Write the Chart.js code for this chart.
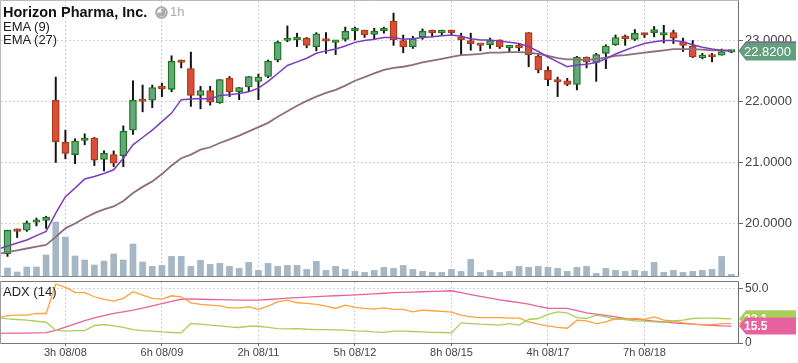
<!DOCTYPE html>
<html><head><meta charset="utf-8">
<script src="https://cdn.jsdelivr.net/npm/chart.js@4.4.0/dist/chart.umd.min.js"></script>
<style>
html,body{margin:0;padding:0;background:#fff;}
#wrap{position:relative;width:798px;height:363px;overflow:hidden;font-family:"Liberation Sans",Arial,sans-serif;}
canvas{position:absolute;left:0;}
.lbl{position:absolute;white-space:nowrap;color:#222;font-size:13px;line-height:13px;}
</style></head><body>
<div id="wrap">
<canvas id="priceChart" width="798" height="278" style="top:0"></canvas>
<canvas id="adxChart" width="798" height="83" style="top:280px"></canvas>
<div class="lbl" style="left:3px;top:5px;font-weight:bold;font-size:14.5px;line-height:14.5px;color:#111">Horizon Pharma, Inc.</div>
<svg style="position:absolute;left:155px;top:6px" width="13" height="13" viewBox="0 0 13 13">
  <circle cx="6.5" cy="6.5" r="5.3" fill="none" stroke="#aaa" stroke-width="2"/>
  <path d="M6.5 6.5 L6.5 2.5 A4 4 0 1 1 2.5 6.5 Z" fill="#aaa"/>
</svg>
<div class="lbl" style="left:170px;top:5px;color:#aaa">1h</div>
<div class="lbl" style="left:3px;top:19.5px">EMA (9)</div>
<div class="lbl" style="left:3px;top:33px">EMA (27)</div>
<div class="lbl" style="left:3px;top:285px">ADX (14)</div>
</div>
<script>
// ---------- data ----------
const tickIdx    = [6, 16, 26, 36, 46, 56, 66];
const tickLabels = ['3h 08/08','6h 08/09','2h 08/11','5h 08/12','8h 08/15','4h 08/17','7h 08/18'];
const priceTicks = [20, 21, 22, 23];
const adxTicks   = [0, 50];

const opens  = [19.50,19.89,19.89,20.02,20.05,22.02,21.33,21.13,21.36,21.40,21.05,21.13,21.11,21.53,22.03,22.02,22.23,22.20,22.68,22.54,
                22.10,22.18,21.98,22.38,22.16,22.24,22.33,22.41,22.68,23.00,23.01,23.04,22.90,23.02,22.97,23.02,23.16,23.17,23.10,23.16,
                23.32,23.00,22.90,23.06,23.15,23.13,23.17,23.04,23.00,22.94,22.93,23.01,22.88,22.91,23.13,22.74,22.51,22.34,22.34,22.28,
                22.73,22.64,22.79,22.93,23.05,23.02,23.11,23.13,23.09,23.13,22.98,22.91,22.72,22.76,22.76,22.81];
const highs  = [19.89,19.91,20.04,20.09,20.12,22.40,21.53,21.39,21.47,21.41,21.19,21.19,21.60,22.34,22.27,22.27,22.30,22.75,22.68,22.81,
                22.25,22.25,22.36,22.41,22.23,22.41,22.45,22.68,22.99,23.24,23.12,23.05,23.13,23.13,23.00,23.22,23.22,23.17,23.20,23.22,
                23.45,23.09,23.07,23.19,23.17,23.17,23.17,23.12,23.12,22.94,23.04,23.01,22.92,22.95,23.13,22.77,22.57,22.40,22.38,22.74,
                22.73,22.79,22.93,23.09,23.09,23.18,23.12,23.23,23.25,23.17,23.04,23.00,22.79,22.79,22.86,22.83];
const lows   = [19.46,19.77,19.87,19.96,19.92,21.00,21.06,20.98,21.29,20.95,20.86,20.93,20.93,21.46,21.83,21.90,22.08,22.16,22.55,21.92,
                21.88,21.94,21.97,22.08,22.03,22.16,22.03,22.39,22.65,22.98,22.90,22.88,22.83,22.79,22.77,22.99,23.01,23.05,23.02,23.12,
                22.92,22.80,22.87,23.02,23.06,23.09,23.10,22.76,22.84,22.83,22.87,22.87,22.80,22.83,22.57,22.47,22.26,22.08,22.26,22.19,
                22.55,22.33,22.54,22.92,22.92,23.00,23.05,23.06,22.96,22.95,22.82,22.72,22.70,22.65,22.76,22.80];
const closes = [19.89,19.87,20.01,20.04,20.10,21.34,21.15,21.35,21.40,21.04,21.15,20.99,21.51,22.02,22.00,22.23,22.21,22.66,22.64,22.10,
                22.18,21.99,22.36,22.16,22.23,22.41,22.40,22.66,22.97,23.02,23.04,22.92,23.11,22.99,23.00,23.15,23.18,23.09,23.15,23.20,
                23.01,22.90,23.03,23.15,23.13,23.17,23.13,23.01,22.95,22.92,23.00,22.90,22.91,22.88,22.77,22.52,22.36,22.32,22.28,22.73,
                22.65,22.77,22.91,23.05,23.03,23.12,23.09,23.18,23.11,23.04,22.92,22.73,22.74,22.73,22.82,22.82];
const volume = [80000,40000,90000,90000,210000,540000,390000,200000,160000,110000,150000,220000,160000,320000,140000,
                96000,106000,196000,196000,96000,156000,116000,126000,96000,76000,136000,56000,126000,96000,106000,
                106000,66000,146000,56000,96000,66000,46000,36000,56000,86000,76000,106000,66000,46000,36000,
                36000,66000,46000,166000,36000,56000,36000,46000,96000,86000,96000,86000,76000,46000,86000,
                96000,26000,76000,56000,46000,56000,46000,136000,36000,56000,36000,46000,56000,66000,196000,16000];
const ema9   = [19.63,19.68,19.73,19.80,19.87,20.17,20.44,20.58,20.73,20.77,20.82,20.88,21.07,21.29,21.41,21.53,21.67,21.81,22.03,22.04,
                22.05,22.04,22.10,22.11,22.13,22.16,22.22,22.33,22.46,22.59,22.65,22.71,22.79,22.83,22.86,22.91,22.97,23.00,23.02,23.05,
                23.05,23.02,23.03,23.05,23.06,23.08,23.09,23.07,23.03,23.01,23.01,22.99,22.97,22.95,22.90,22.82,22.73,22.65,22.57,22.60,
                22.61,22.64,22.70,22.78,22.84,22.90,22.95,22.98,23.00,23.00,22.98,22.93,22.89,22.86,22.84,22.83];
const ema27  = [19.53,19.56,19.59,19.62,19.65,19.78,19.92,20.00,20.09,20.17,20.23,20.28,20.37,20.50,20.60,20.69,20.81,20.95,21.07,21.13,
                21.21,21.25,21.32,21.38,21.44,21.51,21.58,21.65,21.75,21.84,21.93,22.01,22.08,22.14,22.19,22.26,22.34,22.40,22.46,22.52,
                22.55,22.57,22.60,22.64,22.67,22.70,22.73,22.76,22.77,22.78,22.80,22.80,22.81,22.81,22.80,22.78,22.75,22.71,22.69,22.69,
                22.68,22.70,22.72,22.75,22.76,22.78,22.80,22.82,22.84,22.86,22.86,22.86,22.85,22.84,22.84,22.84];
const adx    = [9.0,9.0,9.1,9.2,9.4,11.5,14.5,17.5,20.5,23.0,25.0,27.0,28.5,30.0,32.0,34.0,36.0,38.0,40.0,40.3,
                40.0,39.8,39.6,39.5,39.3,39.2,39.3,39.8,40.4,41.0,41.5,42.0,42.4,42.8,43.2,43.6,44.0,44.5,45.0,45.5,
                46.0,46.3,46.6,46.9,47.2,47.5,47.8,46.0,44.3,42.6,41.0,39.5,38.2,37.0,35.5,33.5,31.8,31.6,31.6,29.6,
                27.6,26.4,25.2,23.8,22.4,21.6,20.9,20.1,19.3,18.5,17.8,17.2,16.6,16.1,15.7,15.5];
const diPlus = [25.0,25.5,25.5,27.0,27.0,54.0,50.9,46.3,46.0,42.3,39.9,38.3,40.8,46.9,43.8,40.8,40.2,43.2,42.3,36.8,
                35.3,34.7,34.0,32.2,32.2,33.1,30.7,33.7,37.7,39.2,36.8,36.2,35.3,33.7,31.6,34.7,32.5,31.6,31.0,32.2,
                30.7,30.7,28.5,30.1,29.5,28.9,28.3,25.5,23.9,23.3,23.3,23.3,22.7,22.7,19.3,17.2,15.6,14.2,13.5,20.9,
                20.3,17.8,19.3,22.4,21.8,22.4,21.5,23.9,20.9,20.3,18.4,17.2,16.9,16.9,17.8,17.8];
const diMinus= [22.1,21.5,20.9,19.9,19.0,11.7,10.8,11.4,11.4,16.0,16.9,15.6,14.2,12.3,11.4,10.8,10.1,9.6,9.3,17.8,
                17.2,16.3,15.6,14.7,14.2,15.3,15.3,14.2,13.2,12.9,13.2,12.6,12.3,12.3,12.0,11.7,11.1,10.8,10.1,9.8,
                10.8,10.8,10.5,10.1,9.8,9.6,9.3,18.4,17.8,17.2,16.9,16.3,17.8,16.3,21.5,22.4,26.1,28.5,27.6,23.3,
                22.4,25.5,23.9,21.8,21.5,20.3,20.0,19.3,19.0,20.3,20.9,22.4,22.7,22.7,22.4,22.1];
// indicator values of the bar just before the visible window (lines run in from the left edge)
const prevEma9 = 19.58, prevEma27 = 19.50, prevAdx = 8.6, prevDiPlus = 23.0, prevDiMinus = 23.5;

// ---------- styling ----------
const FONT = '"Liberation Sans", Arial, sans-serif';
Chart.defaults.font.family = FONT;
Chart.defaults.animation = false;
const N = closes.length;
const idx = [...Array(N).keys()];
const up = idx.map(i => closes[i] >= opens[i]);
const G_FILL = '#69a680', G_LINE = '#167a16', R_FILL = '#d94f3b', R_LINE = '#ac3a12';
const C_EMA9 = '#7b3cc0', C_EMA27 = '#8d6e80';
const C_ADX = '#e8629f', C_DIP = '#ffa23a', C_DIM = '#a9cf5a';
const X_MIN = -0.6735, X_MAX = 75.69;
const GRID = '#d2d2d2';

function noPad(s) { s.paddingTop = 0; s.paddingBottom = 0; s.paddingLeft = 0; s.paddingRight = 0; }

function tag(ctx, x0, y, h, w, color, text, font) {
  ctx.save();
  ctx.beginPath();
  ctx.moveTo(x0, y);
  ctx.lineTo(x0 + 7, y - h / 2);
  ctx.lineTo(x0 + w, y - h / 2);
  ctx.lineTo(x0 + w, y + h / 2);
  ctx.lineTo(x0 + 7, y + h / 2);
  ctx.closePath();
  ctx.fillStyle = color;
  ctx.fill();
  ctx.fillStyle = '#fff';
  ctx.font = font;
  ctx.textBaseline = 'middle';
  ctx.textAlign = 'left';
  ctx.fillText(text, x0 + 5, y + 0.5);
  ctx.restore();
}

function frame(ctx, a, cTop, cRight, cBottom, cLeft) {
  ctx.save();
  ctx.lineWidth = 1;
  const L = Math.round(a.left) - 0.5, R = Math.round(a.right) + 0.5, T = Math.round(a.top) - 0.5, B = Math.round(a.bottom) + 0.5;
  const seg = (x1, y1, x2, y2, c) => { ctx.strokeStyle = c; ctx.beginPath(); ctx.moveTo(x1, y1); ctx.lineTo(x2, y2); ctx.stroke(); };
  seg(L, T, R, T, cTop); seg(L, B, R, B, cBottom); seg(L, T, L, B, cLeft); seg(R, T, R, B, cRight);
  ctx.restore();
}

const mainPlugin = {
  id: 'mainDeco',
  afterDraw(chart) {
    const ctx = chart.ctx, a = chart.chartArea, ys = chart.scales.y;
    frame(ctx, a, '#bbbbbb', '#707070', '#888888', '#bbbbbb');
    const x0 = a.right + 1;
    tag(ctx, x0, ys.getPixelForValue(ema27[N - 1]), 18, 57, C_EMA27, '', '13px ' + FONT);
    tag(ctx, x0, ys.getPixelForValue(ema9[N - 1]), 18, 57, C_EMA9, '', '13px ' + FONT);
    tag(ctx, x0, ys.getPixelForValue(closes[N - 1]), 18, 57, '#62a07d', closes[N - 1].toFixed(4), '13px ' + FONT);
  }
};

const adxPlugin = {
  id: 'adxDeco',
  afterDraw(chart) {
    const ctx = chart.ctx, a = chart.chartArea, ys = chart.scales.y;
    frame(ctx, a, '#777777', '#707070', '#777777', '#999999');
    const x0 = a.right + 1;
    tag(ctx, x0, ys.getPixelForValue(diPlus[N - 1]), 17, 57, C_DIP, diPlus[N - 1].toFixed(1), 'bold 12px ' + FONT);
    tag(ctx, x0, ys.getPixelForValue(diMinus[N - 1]), 17, 57, C_DIM, diMinus[N - 1].toFixed(1), 'bold 12px ' + FONT);
    tag(ctx, x0, ys.getPixelForValue(adx[N - 1]), 17, 57, C_ADX, adx[N - 1].toFixed(1), 'bold 12px ' + FONT);
  }
};

const xy = arr => idx.map(i => ({ x: i, y: arr[i] }));
const lineXY = (prev, arr) => [{ x: -1, y: prev }].concat(xy(arr));

new Chart(document.getElementById('priceChart'), {
  type: 'bar',
  data: {
    datasets: [
      { type: 'line', data: lineXY(prevEma9, ema9), borderColor: C_EMA9, borderWidth: 1.5, pointRadius: 0, tension: 0, order: 0, yAxisID: 'y' },
      { type: 'line', data: lineXY(prevEma27, ema27), borderColor: C_EMA27, borderWidth: 1.8, pointRadius: 0, tension: 0, order: 1, yAxisID: 'y' },
      { type: 'bar', data: idx.map(i => ({ x: i, y: [opens[i], closes[i]] })), yAxisID: 'y',
        backgroundColor: up.map(u => u ? G_FILL : R_FILL), borderColor: up.map(u => u ? G_LINE : R_LINE),
        borderWidth: 1.3, borderSkipped: false, barThickness: 7, grouped: false, minBarLength: 2.5, order: 2 },
      { type: 'bar', data: idx.map(i => ({ x: i, y: [lows[i], highs[i]] })), yAxisID: 'y',
        backgroundColor: '#111', barThickness: 1.3, grouped: false, order: 3 },
      { type: 'bar', data: xy(volume), yAxisID: 'vol', backgroundColor: '#a5b6c5', barThickness: 6, grouped: false, order: 4 }
    ]
  },
  options: {
    responsive: false, events: [],
    layout: { padding: { left: 1, top: 1, right: 0, bottom: 2 } },
    plugins: { legend: { display: false }, tooltip: { enabled: false } },
    scales: {
      x: { type: 'linear', min: X_MIN, max: X_MAX, offset: false,
           afterBuildTicks: s => { s.ticks = tickIdx.map(v => ({ value: v })); },
           afterFit: s => { s.height = 0; noPad(s); },
           ticks: { display: false },
           grid: { color: GRID, drawTicks: false, offset: false },
           border: { display: false, dash: [2, 2] } },
      y: { type: 'linear', position: 'right', min: 19.139, max: 23.648,
           afterBuildTicks: s => { s.ticks = priceTicks.map(v => ({ value: v })); },
           afterFit: s => { s.width = 60; noPad(s); },
           ticks: { callback: v => Number(v).toFixed(4), color: '#444', font: { size: 13 }, padding: 2 },
           grid: { color: GRID, tickColor: '#666', tickLength: 5 },
           border: { display: false, dash: [2, 2] } },
      vol: { type: 'linear', display: false, min: 0, max: 2750000 }
    }
  },
  plugins: [mainPlugin]
});

new Chart(document.getElementById('adxChart'), {
  type: 'line',
  data: {
    datasets: [
      { data: lineXY(prevDiMinus, diMinus), borderColor: C_DIM, borderWidth: 1.3, pointRadius: 0, tension: 0 },
      { data: lineXY(prevDiPlus, diPlus), borderColor: C_DIP, borderWidth: 1.3, pointRadius: 0, tension: 0 },
      { data: lineXY(prevAdx, adx), borderColor: C_ADX, borderWidth: 1.3, pointRadius: 0, tension: 0 }
    ]
  },
  options: {
    responsive: false, events: [],
    layout: { padding: { left: 1, top: 2, right: 0, bottom: 0 } },
    plugins: { legend: { display: false }, tooltip: { enabled: false } },
    scales: {
      x: { type: 'linear', min: X_MIN, max: X_MAX, offset: false,
           afterBuildTicks: s => { s.ticks = tickIdx.map(v => ({ value: v })); },
           afterFit: s => { s.height = 20; noPad(s); },
           ticks: { callback: v => tickLabels[tickIdx.indexOf(v)], color: '#444', font: { size: 11 }, padding: 0, maxRotation: 0, autoSkip: false },
           grid: { color: GRID, tickColor: '#666', tickLength: 3, offset: false },
           border: { display: false, dash: [2, 2] } },
      y: { type: 'linear', position: 'right', min: 0, max: 55.8,
           afterBuildTicks: s => { s.ticks = adxTicks.map(v => ({ value: v })); },
           afterFit: s => { s.width = 60; noPad(s); },
           ticks: { callback: v => v === 0 ? '0' : Number(v).toFixed(1), color: '#444', font: { size: 12 }, padding: 2 },
           grid: { color: GRID, tickColor: '#666', tickLength: 5 },
           border: { display: false, dash: [2, 2] } }
    }
  },
  plugins: [adxPlugin]
});
</script>
</body></html>
